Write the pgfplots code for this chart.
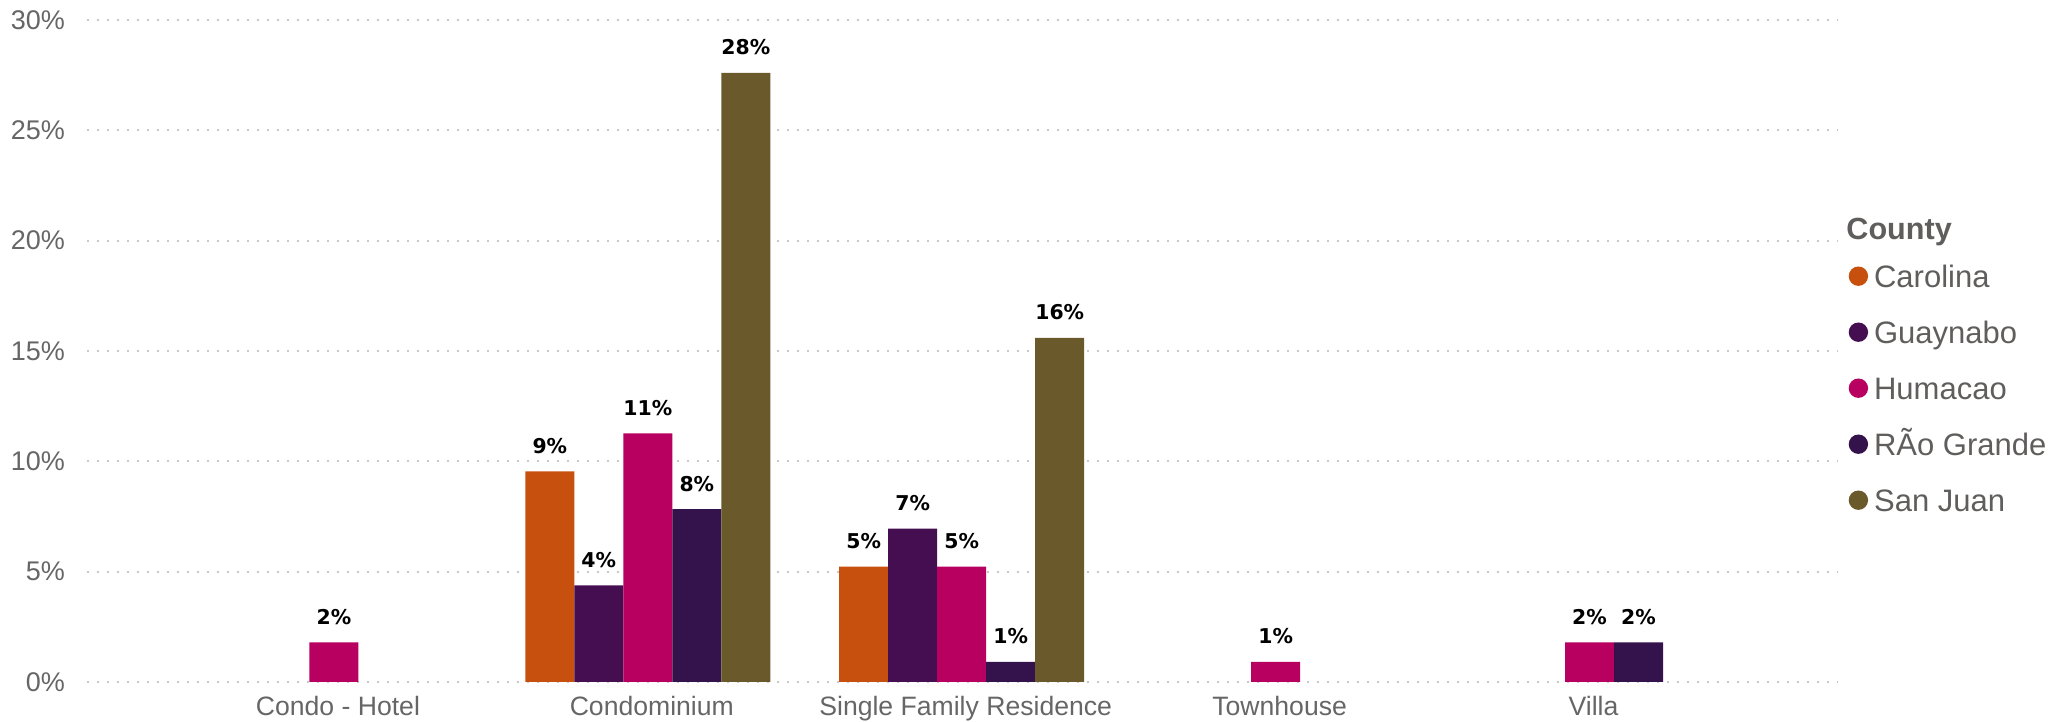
\documentclass[border=0pt]{standalone}
\usepackage{pgfplots}
\pgfplotsset{compat=1.18}
\usepackage{fontspec}
\setmainfont{Liberation Sans}
\newfontfamily\valfont{DejaVu Sans}

\definecolor{carolina}{HTML}{C8500F}
\definecolor{guaynabo}{HTML}{450E50}
\definecolor{humacao}{HTML}{B70060}
\definecolor{riogrande}{HTML}{34124C}
\definecolor{sanjuan}{HTML}{6A5A2B}
\definecolor{tickgray}{HTML}{666666}
\definecolor{leggray}{HTML}{605E5C}
\definecolor{gridgray}{HTML}{C8C8C8}

\pgfplotsset{
  dotleg/.style={legend image code/.code={\fill[##1] (4.85pt,0pt) circle (4.85pt);}},
}

\begin{document}
\begin{tikzpicture}
\useasboundingbox (-43.5pt,-20pt) rectangle (991pt,341pt);
\begin{axis}[
name=ax,
width=875.25pt, height=331pt,
scale only axis,
clip=false,
xmin=-0.7866, xmax=4.790,
ymin=0, ymax=30,
ybar=0pt, bar width=0.1561,
axis line style={draw=none},
major tick length=0pt,
ytick={0,5,...,30},
yticklabel={\pgfmathprintnumber{\tick}\%},
ymajorgrids,
grid style={line width=1pt, dash pattern=on 1pt off 4pt, gridgray},
xtick={0,1,2,3,4},
xticklabels={Condo - Hotel, Condominium, Single Family Residence, Townhouse, Villa},
/pgf/number format/assume math mode=true,
xticklabel style={font=\fontsize{13.3}{15}\selectfont, text=tickgray, anchor=base, yshift=-17pt, xshift=2pt, inner sep=0pt},
yticklabel style={font=\fontsize{13.5}{15}\selectfont, text=tickgray, anchor=east, xshift=-10.8pt, inner sep=0pt},
point meta=explicit symbolic,
nodes near coords,
nodes near coords style={font=\valfont\bfseries\fontsize{10.2}{12}\selectfont, text=black, anchor=base, yshift=9pt, inner sep=0pt},
legend cell align=left,
legend style={draw=none, fill=none, at={(1,1)}, anchor=north west,
  xshift=5.6pt, yshift=-122.6pt, inner sep=0pt, outer sep=0pt,
  row sep=17pt, column sep=3pt,
  font=\fontsize{15.5}{18}\selectfont, text=leggray,
  nodes={inner sep=0pt, text height=11pt, text depth=0pt}},
]
\addplot[fill=carolina, draw=none, dotleg] coordinates {(1,9.54) [9\%] (2,5.23) [5\%]};
\addlegendentry{Carolina}
\addplot[fill=guaynabo, draw=none, dotleg] coordinates {(1,4.38) [4\%] (2,6.95) [7\%]};
\addlegendentry{Guaynabo}
\addplot[fill=humacao, draw=none, dotleg] coordinates {(0,1.8) [2\%] (1,11.27) [11\%] (2,5.23) [5\%] (3,0.91) [1\%] (4,1.8) [2\%]};
\addlegendentry{Humacao}
\addplot[fill=riogrande, draw=none, dotleg] coordinates {(1,7.83) [8\%] (2,0.91) [1\%] (4,1.8) [2\%]};
\addlegendentry{RÃo Grande}
\addplot[fill=sanjuan, draw=none, dotleg] coordinates {(1,27.6) [28\%] (2,15.6) [16\%]};
\addlegendentry{San Juan}
\end{axis}
\node[anchor=base west, inner sep=0pt, text=leggray, font=\bfseries\fontsize{15.3}{18}\selectfont]
  at ([xshift=4.25pt, yshift=-109.6pt]ax.north east) {County};
\end{tikzpicture}
\end{document}
